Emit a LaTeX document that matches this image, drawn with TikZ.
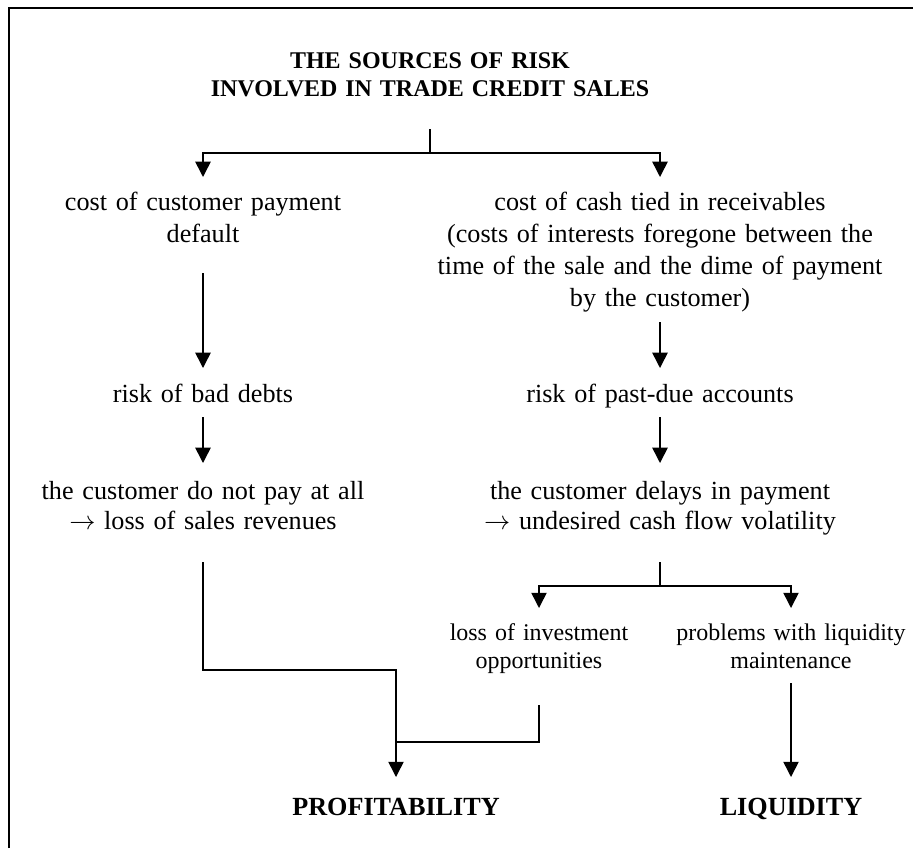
\documentclass[tikz,border=0pt]{standalone}
\usepackage{fontspec}
\setmainfont{Liberation Serif}
\usetikzlibrary{arrows.meta, calc}

\tikzset{
  txt/.style={font=\fontsize{12}{14.7}\selectfont, align=center, text width=260pt, inner sep=0pt, anchor=base},
  txtb/.style={txt, font=\fontsize{12}{13.9}\selectfont},
  small/.style={txt, font=\fontsize{11}{12.85}\selectfont, text width=180pt},
  head/.style={txt, font=\fontsize{11}{12.85}\selectfont\bfseries},
  goal/.style={font=\fontsize{12}{14}\selectfont\bfseries, inner sep=0pt, anchor=base},
  line/.style={line width=0.7pt},
  arr/.style={line, -{Triangle[width=7pt,length=7pt]}}
}

\begin{document}
\begin{tikzpicture}[x=0.4587pt, y=-0.4587pt]
\useasboundingbox (0,0) rectangle (913,848);
% frame (top and left edge only)
\draw[line width=1pt] (9,848) -- (9,8) -- (913,8);

% heading
\node[head] (title) at (430,68) {THE SOURCES OF RISK\\INVOLVED IN TRADE CREDIT SALES};

% first level
\node[txt] (costdef) at (203,210) {cost of customer payment\\default};
\node[txt] (costcash) at (660,210) {cost of cash tied in receivables\\(costs of interests foregone between the\\time of the sale and the dime of payment\\by the customer)};

% second level
\node[txt] (baddebt) at (203,402) {risk of bad debts};
\node[txt] (pastdue) at (660,402) {risk of past-due accounts};

% third level
\node[txtb] (nopay) at (203,499) {the customer do not pay at all\\$\rightarrow$ loss of sales revenues};
\node[txtb] (delay) at (660,499) {the customer delays in payment\\$\rightarrow$ undesired cash flow volatility};

% effects
\node[small] (invest) at (539,640) {loss of investment\\opportunities};
\node[small] (liqmaint) at (791,640) {problems with liquidity\\maintenance};

\node[goal] (profit) at (396,815) {PROFITABILITY};
\node[goal] (liquid) at (791,815) {LIQUIDITY};

% split under heading
\coordinate (fork) at ($(title.base)+(0,85)$);
\draw[line] ($(title.base)+(0,61)$) -- (fork);
\draw[arr] (fork) -| ($(costdef.base)+(0,-33)$);
\draw[arr] (fork) -| ($(costcash.base)+(0,-33)$);

% left branch
\draw[arr] ($(costdef.base)+(0,63)$) -- ($(baddebt.base)+(0,-34)$);
\draw[arr] ($(baddebt.base)+(0,15)$) -- ($(nopay.base)+(0,-36)$);

% right branch
\draw[arr] ($(costcash.base)+(0,112)$) -- ($(pastdue.base)+(0,-34)$);
\draw[arr] ($(pastdue.base)+(0,15)$) -- ($(delay.base)+(0,-36)$);

% split under volatility
\coordinate (fork2) at ($(delay.base)+(0,87)$);
\draw[line] ($(delay.base)+(0,63)$) -- (fork2);
\draw[arr] (fork2) -| ($(invest.base)+(0,-32)$);
\draw[arr] (fork2) -| ($(liqmaint.base)+(0,-32)$);

% into profitability and liquidity
\draw[arr] ($(nopay.base)+(0,63)$) -- ($(nopay.base)+(0,171)$) -| ($(profit.base)+(0,-38)$);
\draw[line] ($(invest.base)+(0,65)$) |- ($(profit.base)+(0,-73)$);
\draw[arr] ($(liqmaint.base)+(0,43)$) -- ($(liquid.base)+(0,-38)$);
\end{tikzpicture}
\end{document}
